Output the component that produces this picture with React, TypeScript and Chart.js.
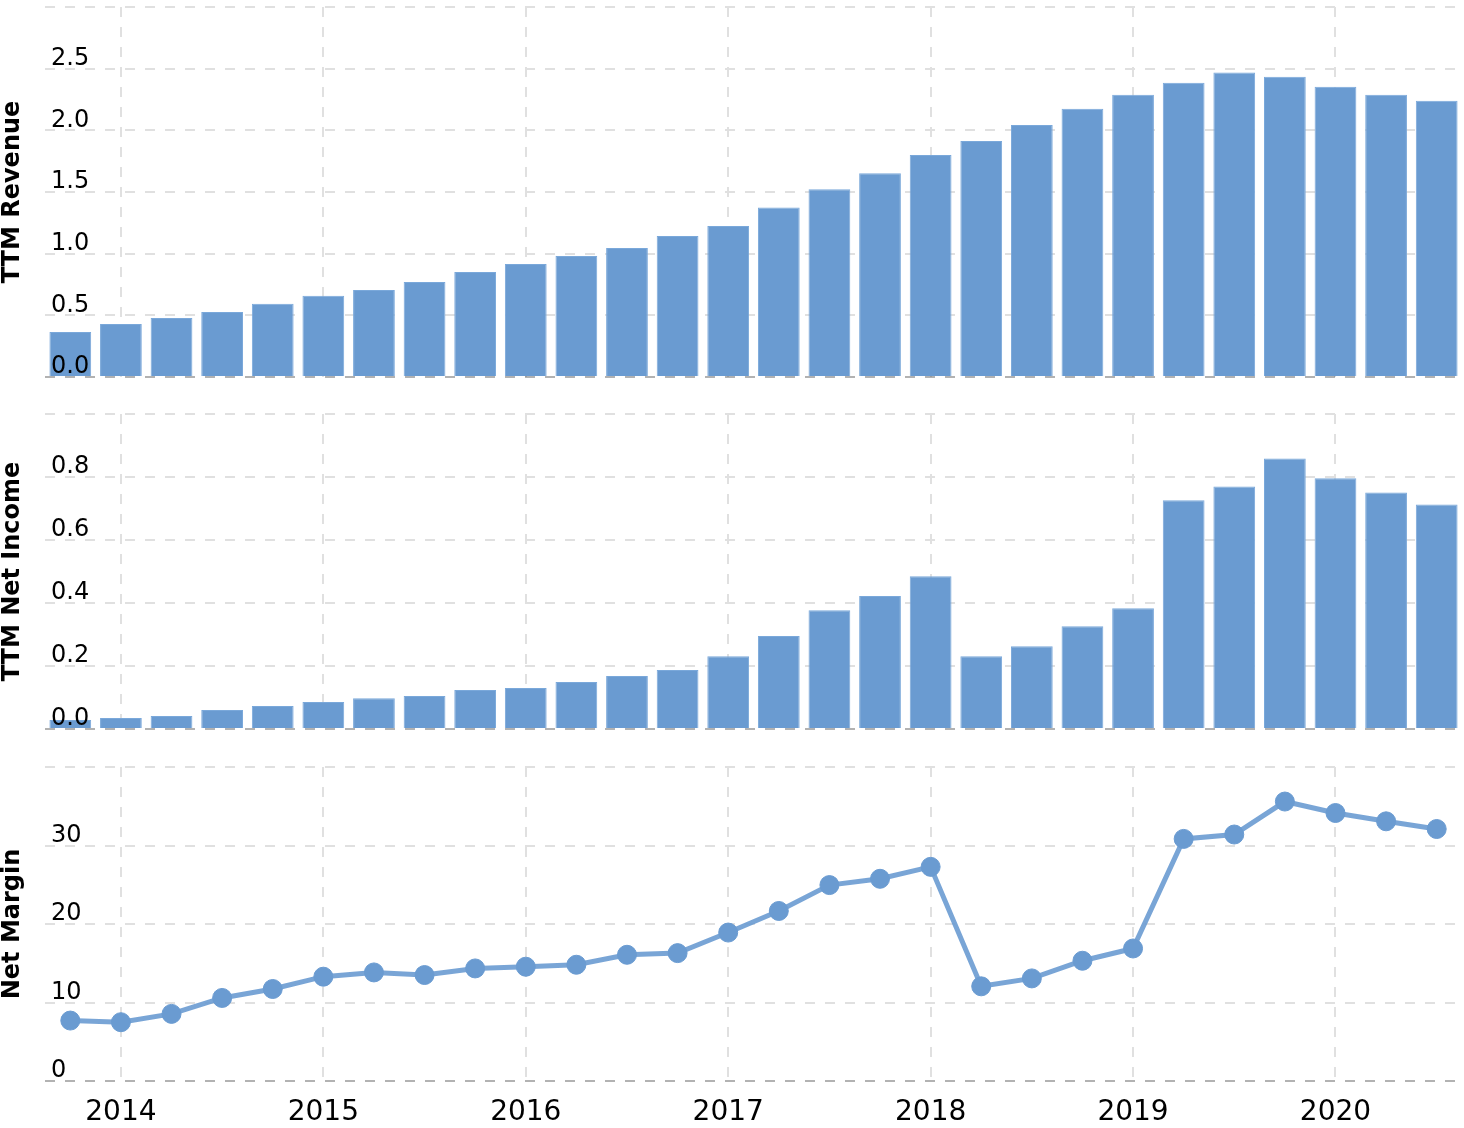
import React, { useEffect, useRef } from 'react';
import { Chart, registerables } from 'chart.js';

Chart.register(...registerables);

// Quarter-end dates (one bar / point each)
const quarterEnds = [
  '2013-09-30', '2013-12-31',
  '2014-03-31', '2014-06-30', '2014-09-30', '2014-12-31',
  '2015-03-31', '2015-06-30', '2015-09-30', '2015-12-31',
  '2016-03-31', '2016-06-30', '2016-09-30', '2016-12-31',
  '2017-03-31', '2017-06-30', '2017-09-30', '2017-12-31',
  '2018-03-31', '2018-06-30', '2018-09-30', '2018-12-31',
  '2019-03-31', '2019-06-30', '2019-09-30', '2019-12-31',
  '2020-03-31', '2020-06-30',
];

// Year tick positions and labels
const yearTickAt = ['2013-12-31', '2014-12-31', '2015-12-31', '2016-12-31', '2017-12-31', '2018-12-31', '2019-12-31'];
const yearTicks = ['2014', '2015', '2016', '2017', '2018', '2019', '2020'];

// TTM Revenue
const ttmRevenue = [
  0.364, 0.43, 0.479, 0.527, 0.593, 0.658, 0.705, 0.77, 0.851, 0.916, 0.981, 1.046, 1.143, 1.224,
  1.375, 1.522, 1.652, 1.799, 1.913, 2.044, 2.174, 2.288, 2.386, 2.468, 2.435, 2.354, 2.288, 2.24,
];

// TTM Net Income
const ttmNetIncome = [
  0.0285, 0.035, 0.041, 0.06, 0.073, 0.0856, 0.098, 0.105, 0.124, 0.13, 0.149, 0.168, 0.187, 0.231,
  0.295, 0.377, 0.422, 0.485, 0.231, 0.263, 0.326, 0.383, 0.726, 0.77, 0.859, 0.796, 0.751, 0.713,
];

// Net Margin (%)
const netMargin = [
  7.7, 7.49, 8.55, 10.58, 11.72, 13.29, 13.83, 13.5, 14.34, 14.56, 14.81, 16.08, 16.29, 18.91,
  21.66, 24.96, 25.76, 27.28, 12.06, 13.07, 15.32, 16.88, 30.84, 31.4, 35.6, 34.14, 33.08, 32.1,
];

const FONT = "'DejaVu Sans', Verdana, sans-serif";
const GRID = '#e0e0e0';
const BLUE = '#6a9bd1';
const DASH = [10, 10];

const zeroLine = {
  id: 'zeroLine',
  afterDatasetsDraw(chart: any) {
    const { ctx, chartArea, scales } = chart;
    const y = Math.round(scales.y.getPixelForValue(0));
    ctx.save();
    ctx.strokeStyle = 'rgba(0,0,0,0.3)';
    ctx.lineWidth = 2;
    ctx.setLineDash(DASH);
    ctx.beginPath();
    ctx.moveTo(chartArea.left, y);
    ctx.lineTo(chartArea.right, y);
    ctx.stroke();
    ctx.restore();
  },
};

type PanelProps = {
  kind: 'bar' | 'line';
  values: number[];
  title: string;
  yMax: number;
  yStep: number;
  decimals: number;
  showX: boolean;
  top: number;
  height: number;
  padTop: number;
  padBottom: number;
};

function Panel(p: PanelProps) {
  const ref = useRef<HTMLCanvasElement>(null);
  useEffect(() => {
    if (!ref.current) return;
    const dataset: any =
      p.kind === 'bar'
        ? {
            type: 'bar',
            data: p.values,
            backgroundColor: BLUE,
            borderColor: '#7aa8da',
            borderWidth: 1,
            categoryPercentage: 1,
            barPercentage: 0.825,
          }
        : {
            type: 'line',
            data: p.values,
            borderColor: 'rgba(106,155,209,0.9)',
            borderWidth: 5,
            pointRadius: 9.5,
            pointBackgroundColor: BLUE,
            pointBorderColor: BLUE,
            pointBorderWidth: 1,
            tension: 0,
            fill: false,
          };
    const chart = new Chart(ref.current, {
      type: p.kind,
      data: { labels: quarterEnds, datasets: [dataset] },
      plugins: [zeroLine],
      options: {
        animation: false,
        responsive: false,
        events: [],
        layout: { autoPadding: false, padding: { top: p.padTop, bottom: p.padBottom, left: 0, right: 2 } },
        plugins: { legend: { display: false }, tooltip: { enabled: false } },
        scales: {
          x: {
            type: 'category',
            offset: true,
            grid: {
              offset: false,
              drawTicks: false,
              lineWidth: 2,
              color: (ctx: any) => (yearTickAt.includes(quarterEnds[ctx.index]) ? GRID : 'rgba(0,0,0,0)'),
            },
            border: { display: false, dash: DASH },
            ticks: {
              display: p.showX,
              autoSkip: false,
              maxRotation: 0,
              minRotation: 0,
              padding: 15,
              color: '#000',
              font: { family: FONT, size: 28 },
              callback: (_v: any, i: number) => {
                const k = yearTickAt.indexOf(quarterEnds[i]);
                return k >= 0 ? yearTicks[k] : '';
              },
            },
            afterFit: (s: any) => {
              s.paddingLeft = 0;
              s.paddingRight = 0;
              if (p.showX) s.height = 47;
            },
          },
          y: {
            min: 0,
            max: p.yMax,
            grid: {
              drawTicks: false,
              lineWidth: 2,
              color: (ctx: any) => (ctx.tick && ctx.tick.value === 0 ? 'rgba(0,0,0,0)' : GRID),
            },
            border: { display: false, dash: DASH },
            ticks: {
              z: 1,
              stepSize: p.yStep,
              mirror: true,
              padding: 6,
              labelOffset: -10,
              color: '#000',
              font: { family: FONT, size: 24 },
              callback: (v: any) => (Number(v) >= p.yMax - 1e-9 ? '' : Number(v).toFixed(p.decimals)),
            },
            title: {
              display: true,
              text: p.title,
              color: '#000',
              font: { family: FONT, size: 24, weight: 'bold', lineHeight: 1.1 },
              padding: { top: 0, bottom: 7 },
            },
            afterFit: (s: any) => {
              s.paddingTop = 0;
              s.paddingBottom = 0;
              s.width = 45;
            },
          },
        },
      } as any,
    });
    return () => chart.destroy();
  }, []);
  return (
    <canvas
      ref={ref}
      width={1464}
      height={p.height}
      style={{ position: 'absolute', left: 0, top: p.top, width: 1464, height: p.height, display: 'block' }}
    />
  );
}

export default function App() {
  return (
    <div style={{ position: 'absolute', left: 0, top: 0, width: 1464, height: 1128, overflow: 'hidden', background: '#fff' }}>
      <Panel kind="bar" values={ttmRevenue} title="TTM Revenue" yMax={3} yStep={0.5} decimals={1} showX={false}
        top={0} height={395} padTop={7} padBottom={18} />
      <Panel kind="bar" values={ttmNetIncome} title="TTM Net Income" yMax={1} yStep={0.2} decimals={1} showX={false}
        top={395} height={350} padTop={19} padBottom={16} />
      <Panel kind="line" values={netMargin} title="Net Margin" yMax={40} yStep={10} decimals={0} showX={true}
        top={745} height={383} padTop={22} padBottom={0} />
    </div>
  );
}
